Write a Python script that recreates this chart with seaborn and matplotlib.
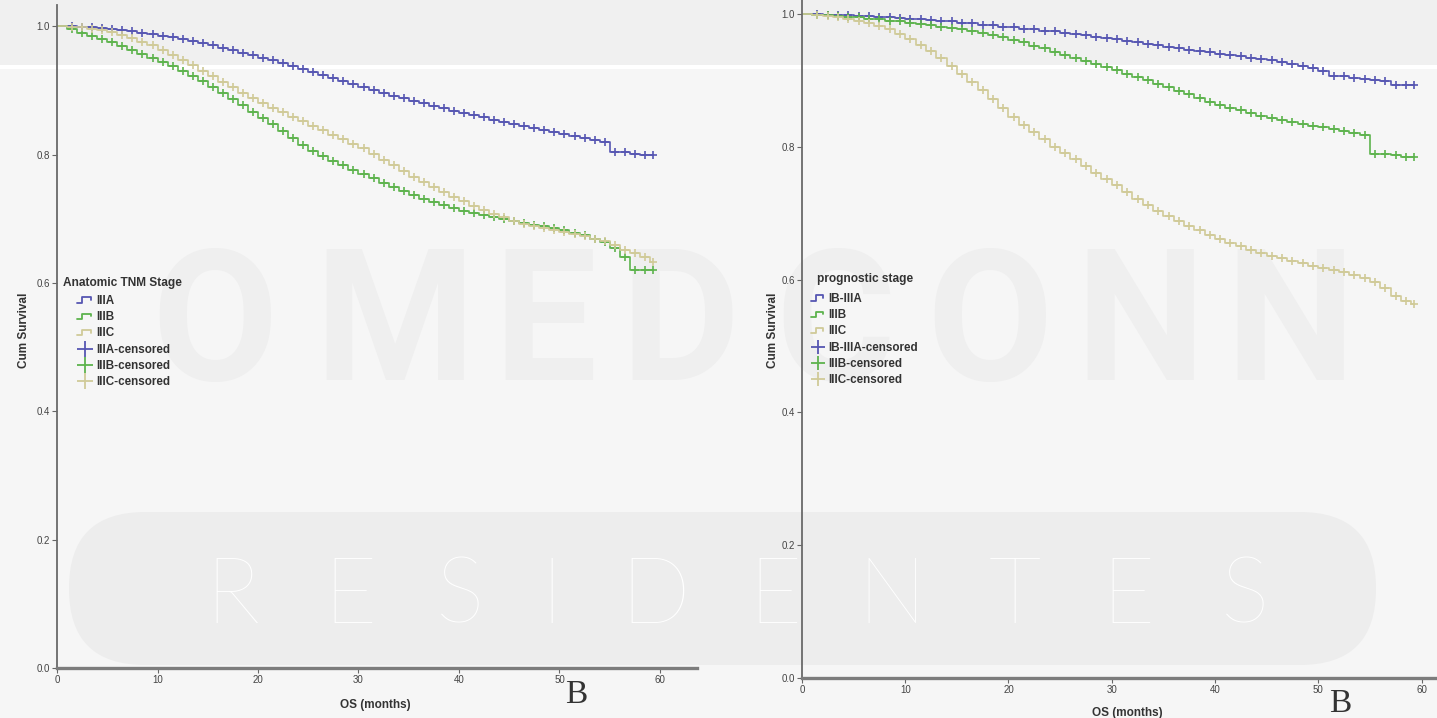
"""Kaplan-Meier overall survival by anatomic vs prognostic stage."""

import matplotlib

matplotlib.use("Agg")

import matplotlib.pyplot as plt
import numpy as np
import seaborn as sns
from matplotlib.legend_handler import HandlerBase
from matplotlib.lines import Line2D
from matplotlib.patches import FancyBboxPatch, Rectangle

sns.set_theme(style="white")
plt.rcParams["font.family"] = ["Liberation Sans", "DejaVu Sans"]

# step times (months) shared by all curves
MONTHS = [0, 1, 2, 3, 4, 5, 6, 7, 8, 9, 10, 11, 12, 13, 14, 15, 16, 17, 18, 19,
          20, 21, 22, 23, 24, 25, 26, 27, 28, 29, 30, 31, 32, 33, 34, 35, 36, 37, 38, 39,
          40, 41, 42, 43, 44, 45, 46, 47, 48, 49, 50, 51, 52, 53, 54, 55, 56, 57, 58, 59]
END_MONTH = 59.3
CENSOR_MONTHS = [1.5, 2.5, 3.5, 4.5, 5.5, 6.5, 7.5, 8.5, 9.5, 10.5, 11.5, 12.5, 13.5, 14.5,
                 15.5, 16.5, 17.5, 18.5, 19.5, 20.5, 21.5, 22.5, 23.5, 24.5, 25.5, 26.5, 27.5,
                 28.5, 29.5, 30.5, 31.5, 32.5, 33.5, 34.5, 35.5, 36.5, 37.5, 38.5, 39.5, 40.5,
                 41.5, 42.5, 43.5, 44.5, 45.5, 46.5, 47.5, 48.5, 49.5, 50.5, 51.5, 52.5, 53.5,
                 54.5, 55.5, 56.5, 57.5, 58.5, 59.3]

# left panel: anatomic TNM stage
ANATOMIC_LABELS = ["IIIA", "IIIB", "IIIC"]
ANATOMIC_IIIA = [1.000, 1.000, 0.999, 0.998, 0.997, 0.996, 0.994, 0.992, 0.990, 0.988,
                 0.985, 0.983, 0.980, 0.977, 0.974, 0.970, 0.966, 0.963, 0.959, 0.955,
                 0.951, 0.947, 0.942, 0.938, 0.933, 0.929, 0.924, 0.920, 0.915, 0.910,
                 0.905, 0.900, 0.896, 0.892, 0.888, 0.884, 0.880, 0.876, 0.872, 0.868,
                 0.864, 0.861, 0.858, 0.854, 0.851, 0.848, 0.845, 0.841, 0.838, 0.835,
                 0.832, 0.829, 0.826, 0.823, 0.820, 0.804, 0.804, 0.801, 0.800, 0.800]
ANATOMIC_IIIB = [1.000, 0.995, 0.990, 0.985, 0.980, 0.975, 0.969, 0.963, 0.957, 0.951,
                 0.945, 0.938, 0.930, 0.922, 0.914, 0.905, 0.896, 0.887, 0.877, 0.867,
                 0.857, 0.847, 0.837, 0.826, 0.815, 0.806, 0.798, 0.790, 0.783, 0.776,
                 0.770, 0.763, 0.756, 0.749, 0.743, 0.737, 0.731, 0.726, 0.721, 0.716,
                 0.712, 0.709, 0.706, 0.702, 0.699, 0.696, 0.694, 0.691, 0.688, 0.685,
                 0.682, 0.678, 0.674, 0.669, 0.664, 0.655, 0.640, 0.620, 0.620, 0.620]
ANATOMIC_IIIC = [1.000, 0.999, 0.998, 0.996, 0.994, 0.991, 0.987, 0.982, 0.976, 0.970,
                 0.963, 0.955, 0.947, 0.939, 0.930, 0.922, 0.913, 0.905, 0.896, 0.888,
                 0.880, 0.873, 0.866, 0.859, 0.852, 0.845, 0.838, 0.831, 0.824, 0.817,
                 0.810, 0.801, 0.792, 0.783, 0.774, 0.765, 0.757, 0.749, 0.741, 0.734,
                 0.727, 0.720, 0.714, 0.708, 0.702, 0.697, 0.692, 0.689, 0.686, 0.683,
                 0.680, 0.676, 0.673, 0.669, 0.665, 0.659, 0.652, 0.646, 0.640, 0.632]

# right panel: prognostic stage
PROGNOSTIC_LABELS = ["IB-IIIA", "IIIB", "IIIC"]
PROGNOSTIC_IB_IIIA = [1.000, 1.000, 0.999, 0.999, 0.998, 0.997, 0.997, 0.996, 0.995, 0.994,
                      0.993, 0.992, 0.991, 0.990, 0.989, 0.987, 0.986, 0.984, 0.983, 0.981,
                      0.980, 0.978, 0.977, 0.975, 0.974, 0.972, 0.970, 0.968, 0.966, 0.964,
                      0.962, 0.960, 0.958, 0.955, 0.953, 0.950, 0.948, 0.946, 0.944, 0.942,
                      0.940, 0.938, 0.936, 0.934, 0.932, 0.930, 0.927, 0.924, 0.921, 0.918,
                      0.914, 0.907, 0.906, 0.904, 0.902, 0.900, 0.899, 0.893, 0.893, 0.893]
PROGNOSTIC_IIIB = [1.000, 0.999, 0.998, 0.997, 0.996, 0.995, 0.993, 0.992, 0.990, 0.989,
                   0.987, 0.985, 0.983, 0.981, 0.979, 0.977, 0.974, 0.971, 0.968, 0.965,
                   0.961, 0.957, 0.952, 0.948, 0.943, 0.938, 0.933, 0.929, 0.924, 0.920,
                   0.915, 0.910, 0.905, 0.900, 0.895, 0.890, 0.884, 0.879, 0.873, 0.868,
                   0.863, 0.859, 0.855, 0.851, 0.847, 0.843, 0.840, 0.837, 0.835, 0.832,
                   0.830, 0.827, 0.824, 0.821, 0.817, 0.789, 0.789, 0.787, 0.785, 0.785]
PROGNOSTIC_IIIC = [1.000, 0.999, 0.997, 0.995, 0.993, 0.990, 0.987, 0.982, 0.977, 0.970,
                   0.962, 0.953, 0.944, 0.933, 0.922, 0.910, 0.898, 0.885, 0.872, 0.858,
                   0.845, 0.833, 0.822, 0.811, 0.800, 0.790, 0.781, 0.771, 0.761, 0.751,
                   0.742, 0.732, 0.722, 0.713, 0.704, 0.696, 0.688, 0.681, 0.674, 0.667,
                   0.661, 0.655, 0.650, 0.645, 0.640, 0.636, 0.632, 0.628, 0.625, 0.621,
                   0.618, 0.614, 0.611, 0.607, 0.603, 0.596, 0.588, 0.575, 0.568, 0.563]

COLORS = ["#5656b2", "#5db34d", "#d0ca98"]
BG = "#f6f6f6"
INK = "#333333"


class StepKey(HandlerBase):
    def __init__(self, start):
        super().__init__()
        self.start = start

    def create_artists(self, legend, orig_handle, xdescent, ydescent, width, height, fontsize, trans):
        x0 = -xdescent + width * self.start
        w = width * (1 - self.start)
        lo = -ydescent + height * 0.15
        hi = -ydescent + height * 0.8
        line = Line2D([x0, x0 + w * 0.35, x0 + w * 0.35, x0 + w * 0.85, x0 + w * 0.85],
                      [lo, lo, hi, hi, (lo + hi) / 2],
                      color=orig_handle.get_color(), lw=1.3, transform=trans)
        return [line]


class CensorKey(HandlerBase):
    def __init__(self, start, size):
        super().__init__()
        self.start = start
        self.size = size

    def create_artists(self, legend, orig_handle, xdescent, ydescent, width, height, fontsize, trans):
        x0 = -xdescent + width * self.start
        w = width * (1 - self.start)
        mark = Line2D([x0 + w * 0.5], [-ydescent + height * 0.45], marker="+", ms=self.size,
                      mew=1.3, color=orig_handle.get_color(), lw=0, transform=trans)
        return [mark]


def draw_panel(ax, curves, labels, title, xmax, ymax, start, size, title_xy, anchor, handle_len):
    idx = np.searchsorted(MONTHS, CENSOR_MONTHS, side="right") - 1
    for values, color in zip(curves, COLORS):
        sns.lineplot(x=MONTHS + [END_MONTH], y=values + [values[-1]], ax=ax, color=color,
                     lw=1.2, drawstyle="steps-post", estimator=None, sort=False, legend=False)
        sns.scatterplot(x=CENSOR_MONTHS, y=np.array(values)[idx], ax=ax, marker="+", s=26,
                        color=color, linewidth=1.2, legend=False, zorder=3)

    ax.set_facecolor("none")
    ax.set_xlim(0, xmax)
    ax.set_ylim(0, ymax)
    ax.set_xticks([0, 10, 20, 30, 40, 50, 60])
    ax.set_yticks([0.0, 0.2, 0.4, 0.6, 0.8, 1.0])
    ax.set_yticklabels(["0.0", "0.2", "0.4", "0.6", "0.8", "1.0"])
    ax.tick_params(axis="both", direction="out", length=3.5, width=0.8, color="#666666",
                   labelsize=7, labelcolor="#444444", pad=1.5, left=True, bottom=True)
    for side in ["top", "right"]:
        ax.spines[side].set_visible(False)
    ax.spines["left"].set_color("#6a6a6a")
    ax.spines["left"].set_linewidth(1.3)
    ax.spines["bottom"].set_color("#7c7c7c")
    ax.spines["bottom"].set_linewidth(2.4)

    ax.set_xlabel("OS (months)", fontsize=8.5, fontweight="bold", color=INK)
    ax.set_ylabel("Cum Survival", fontsize=8.5, fontweight="bold", color=INK)

    fig = ax.figure
    fig.text(title_xy[0], title_xy[1], title, fontsize=8.6, fontweight="bold", color=INK,
             ha="left", va="center")
    steps = [Line2D([], [], color=c) for c in COLORS]
    marks = [Line2D([], [], color=c) for c in COLORS]
    handler_map = {h: StepKey(start) for h in steps}
    handler_map.update({h: CensorKey(start, size) for h in marks})
    names = labels + [f"{label}-censored" for label in labels]
    leg = ax.legend(steps + marks, names, loc="upper left",
                    bbox_to_anchor=anchor, bbox_transform=fig.transFigure,
                    frameon=False, borderpad=0, borderaxespad=0, handlelength=handle_len,
                    handletextpad=0.25, labelspacing=0.36, handler_map=handler_map,
                    prop={"weight": "bold", "size": 8.4})
    for text in leg.get_texts():
        text.set_color(INK)


fig = plt.figure(figsize=(14.37, 7.18), dpi=100, facecolor=BG)

# faded watermark behind the plots
bg = fig.add_axes([0, 0, 1, 1], zorder=-1)
bg.set_xlim(0, 1437)
bg.set_ylim(718, 0)
bg.axis("off")
bg.add_patch(Rectangle((0, 0), 1437, 65, color="#f0f0f0", lw=0))
bg.add_patch(Rectangle((0, 65), 1437, 4, color="white", lw=0))
for letter, xpos in zip("OMEDCONN", [215, 395, 545, 680, 835, 990, 1140, 1290]):
    bg.text(xpos, 330, letter, fontsize=132, family="Roboto", fontweight="bold",
            color="#efefef", ha="center", va="center")
bg.add_patch(FancyBboxPatch((69, 512), 1307, 153, boxstyle="round,pad=0,rounding_size=76",
                            color="#ededed", lw=0))
for letter, xpos in zip("RESIDENTES", [232, 350, 460, 552, 655, 775, 892, 1015, 1128, 1245]):
    bg.text(xpos, 598, letter, fontsize=66, family="Lato", fontweight="light",
            color="white", ha="center", va="center")
bg.text(576, 703, "B", family="Liberation Serif", fontsize=24, color=INK, ha="center", va="baseline")
bg.text(1340, 712, "B", family="Liberation Serif", fontsize=24, color=INK, ha="center", va="baseline")

ax_left = fig.add_axes([0.0397, 0.0696, 0.4454, 0.9234])
ax_right = fig.add_axes([0.5581, 0.0557, 0.4419, 0.9443])

draw_panel(ax_left, [ANATOMIC_IIIA, ANATOMIC_IIIB, ANATOMIC_IIIC], ANATOMIC_LABELS,
           "Anatomic TNM Stage", 63.7, 1.033, 0.45, 12, (63 / 1437, 1 - 283 / 718),
           (63 / 1437, 1 - 295 / 718), 2.6)
draw_panel(ax_right, [PROGNOSTIC_IB_IIIA, PROGNOSTIC_IIIB, PROGNOSTIC_IIIC], PROGNOSTIC_LABELS,
           "prognostic stage", 61.5, 1.021, 0.0, 10, (817 / 1437, 1 - 279 / 718),
           (811 / 1437, 1 - 293 / 718), 1.25)

ax_left.xaxis.set_label_coords(0.498, -0.047)
ax_left.yaxis.set_label_coords(-0.043, 0.51)
ax_right.xaxis.set_label_coords(0.513, -0.043)
ax_right.yaxis.set_label_coords(-0.036, 0.513)

fig.savefig("out.png", dpi=100, facecolor=BG)
